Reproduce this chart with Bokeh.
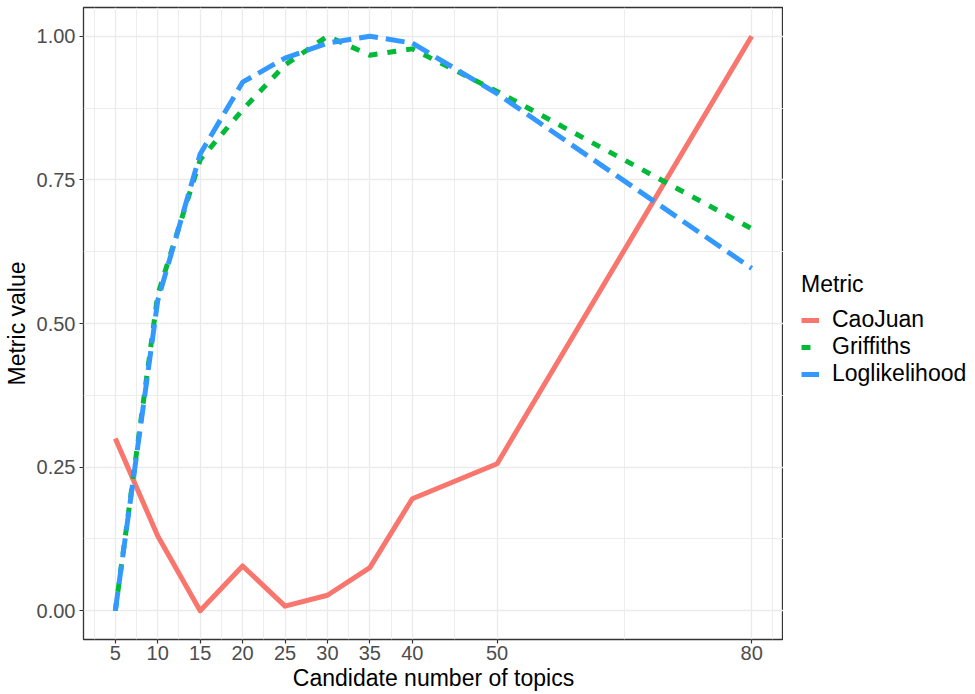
from bokeh.plotting import figure
from bokeh.layouts import row
from bokeh.models import Range1d, FixedTicker, Legend, LegendItem
from bokeh.embed import file_html
from bokeh.resources import INLINE

# ---- data ----
topics = [5, 10, 15, 20, 25, 30, 35, 40, 50, 80]
caojuan = [0.300, 0.130, 0.000, 0.078, 0.008, 0.027, 0.075, 0.195, 0.256, 1.000]
griffiths = [0.000, 0.550, 0.785, 0.872, 0.950, 1.000, 0.967, 0.978, 0.904, 0.665]
loglikelihood = [0.000, 0.540, 0.795, 0.920, 0.962, 0.988, 1.000, 0.988, 0.900, 0.596]

x_ticks = [5, 10, 15, 20, 25, 30, 35, 40, 50, 80]
x_minor = [2.5, 7.5, 12.5, 17.5, 22.5, 27.5, 32.5, 37.5, 45, 65, 82.5]
y_ticks = [0, 0.25, 0.5, 0.75, 1.0]
y_minor = [0.125, 0.375, 0.625, 0.875]
y_labels = {0: "0.00", 0.25: "0.25", 0.5: "0.50", 0.75: "0.75", 1.0: "1.00"}

series_names = ["CaoJuan", "Griffiths", "Loglikelihood"]
colors = ["#F8766D", "#00BA38", "#3399FF"]
dashes = ["solid", "9 10", "19 8"]

FONT = "Liberation Sans"
FRAME_W, FRAME_H = 700, 632
TOP, BOTTOM = 7, 55
TOTAL_H = TOP + FRAME_H + BOTTOM

p = figure(frame_width=FRAME_W, frame_height=FRAME_H, output_backend="svg",
           toolbar_location=None,
           x_range=Range1d(1.25, 83.75), y_range=Range1d(-0.05, 1.05),
           min_border_left=75, min_border_right=0, min_border_top=TOP,
           min_border_bottom=BOTTOM)

p.background_fill_color = "white"
p.border_fill_color = "white"
p.outline_line_color = "#333333"
p.outline_line_width = 1.3

# axes
p.xaxis.ticker = FixedTicker(ticks=x_ticks, minor_ticks=x_minor)
p.yaxis.ticker = FixedTicker(ticks=y_ticks, minor_ticks=y_minor)
p.yaxis.major_label_overrides = y_labels
p.xaxis.axis_label = "Candidate number of topics"
p.yaxis.axis_label = "Metric value"
for ax in [p.xaxis[0], p.yaxis[0]]:
    ax.axis_line_color = None
    ax.major_tick_line_color = "#333333"
    ax.major_tick_line_width = 1.2
    ax.major_tick_out = 4
    ax.major_tick_in = 0
    ax.minor_tick_line_color = None
    ax.major_label_text_font = FONT
    ax.major_label_text_font_size = "20px"
    ax.major_label_text_color = "#4D4D4D"
    ax.axis_label_text_font = FONT
    ax.axis_label_text_font_size = "23px"
    ax.axis_label_text_font_style = "normal"
    ax.axis_label_text_color = "black"
p.xaxis.major_label_standoff = 2
p.xaxis.axis_label_standoff = 2
p.yaxis.major_label_standoff = 4
p.yaxis.axis_label_standoff = 4

# grid
for g in [p.xgrid[0], p.ygrid[0]]:
    g.grid_line_color = "#EBEBEB"
    g.grid_line_width = 1.3
    g.minor_grid_line_color = "#EBEBEB"
    g.minor_grid_line_width = 0.9

series = [caojuan, griffiths, loglikelihood]
for vals, col, dash in zip(series, colors, dashes):
    p.line(topics, vals, line_color=col, line_width=5, line_dash=dash,
           line_cap="butt", line_join="round")

# ---- legend panel (separate figure to the right of the panel) ----
q = figure(width=184, height=TOTAL_H, output_backend="svg", toolbar_location=None,
           x_range=Range1d(-1000, -999), y_range=Range1d(-0.05, 1.05),
           min_border=0)
q.axis.visible = False
q.grid.visible = False
q.outline_line_color = None
q.background_fill_color = "white"
q.border_fill_color = "white"
items = []
for name, vals, col, dash in zip(series_names, series, colors, dashes):
    r = q.line(topics, vals, line_color=col, line_width=5, line_dash=dash,
               line_cap="butt")
    items.append(LegendItem(label=name, renderers=[r]))

legend = Legend(items=items, title="Metric", location=(18, 252))
legend.title_text_font = FONT
legend.title_text_font_size = "23px"
legend.title_text_font_style = "normal"
legend.title_text_color = "black"
legend.title_standoff = 8
legend.label_text_font = FONT
legend.label_text_font_size = "23px"
legend.label_text_color = "black"
legend.label_standoff = 13
legend.glyph_width = 18
legend.glyph_height = 18
legend.label_height = 18
legend.spacing = 0
legend.padding = 8
legend.margin = 0
legend.border_line_color = None
legend.background_fill_alpha = 0
q.add_layout(legend)

layout = row(p, q)
open("out.html", "w").write(file_html(layout, INLINE))
